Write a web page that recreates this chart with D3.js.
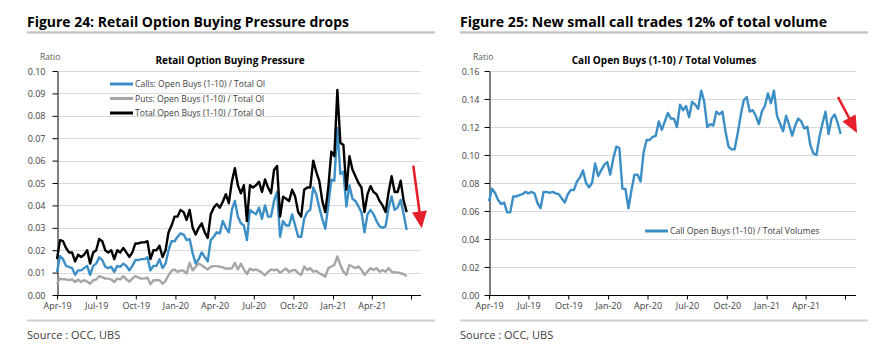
<!DOCTYPE html>
<html>
<head>
<meta charset="utf-8">
<script src="https://cdn.jsdelivr.net/npm/d3@7"></script>
<style>
  body { margin: 0; background: #fff; }
  svg { font-family: "Open Sans", "Noto Sans", sans-serif; }
  .fig-title { font-size: 15px; font-weight: bold; fill: #000; }
  .chart-title { font-size: 10px; font-weight: bold; fill: #000; }
  .axis text { font-size: 9px; fill: #404040; font-family: "Open Sans", sans-serif; }
  .axis line, .axis path { stroke: #000; }
  .legend text { font-size: 8.6px; fill: #404040; }
  .source { font-size: 11px; fill: #404040; }
  .unit { font-size: 8.5px; fill: #595959; }
</style>
</head>
<body>
<svg id="chart" width="879" height="350"></svg>
<script>
// weekly observations, first week of Apr-19 through late Jun-21
const firstWeek = new Date(2019, 3, 1);
const weekCount = 117;
const weeks = d3.range(weekCount).map(i => d3.timeDay.offset(firstWeek, 7 * i));

const quarterTicks = [
  new Date(2019, 3, 1), new Date(2019, 6, 1), new Date(2019, 9, 1), new Date(2020, 0, 1),
  new Date(2020, 3, 1), new Date(2020, 6, 1), new Date(2020, 9, 1), new Date(2021, 0, 1),
  new Date(2021, 3, 1), new Date(2021, 6, 1)
];
const quarterLabels = ["Apr-19", "Jul-19", "Oct-19", "Jan-20", "Apr-20", "Jul-20", "Oct-20", "Jan-21", "Apr-21", ""];

// Figure 24
const callsOI = [
  0.0103, 0.0174, 0.016, 0.013, 0.0125, 0.012, 0.009, 0.011, 0.011, 0.012,
  0.013, 0.009, 0.013, 0.014, 0.0168, 0.0156, 0.0126, 0.012, 0.0126, 0.0103,
  0.013, 0.0126, 0.014, 0.013, 0.011, 0.013, 0.0156, 0.0156, 0.016, 0.016,
  0.0168, 0.011, 0.013, 0.013, 0.016, 0.012, 0.014, 0.020, 0.024, 0.024,
  0.026, 0.0275, 0.027, 0.0245, 0.025, 0.0186, 0.014, 0.016, 0.019, 0.017,
  0.015, 0.0245, 0.026, 0.028, 0.0275, 0.033, 0.030, 0.028, 0.038, 0.042,
  0.035, 0.032, 0.031, 0.0245, 0.038, 0.037, 0.036, 0.039, 0.034, 0.040,
  0.035, 0.035, 0.042, 0.046, 0.026, 0.033, 0.031, 0.031, 0.036,
  0.031, 0.026, 0.026, 0.034, 0.037, 0.038, 0.048, 0.045, 0.039, 0.034,
  0.0296, 0.040, 0.0515, 0.051, 0.0746, 0.054, 0.055, 0.0395, 0.049, 0.043,
  0.042, 0.0395, 0.037, 0.028, 0.036, 0.038, 0.036, 0.033, 0.0306, 0.030,
  0.0306, 0.039, 0.044, 0.038, 0.039, 0.0425, 0.036, 0.029
];
const putsOI = [
  0.005, 0.0073, 0.007, 0.007, 0.0066, 0.007, 0.0058, 0.0069, 0.0058, 0.0066,
  0.006, 0.005, 0.0066, 0.0069, 0.0084, 0.008, 0.0073, 0.0073, 0.0069, 0.0058,
  0.0073, 0.007, 0.0084, 0.007, 0.006, 0.0073, 0.0084, 0.0078, 0.0073, 0.0073,
  0.0078, 0.0048, 0.0066, 0.0066, 0.0066, 0.005, 0.0063, 0.0088, 0.0108, 0.0114,
  0.0103, 0.011, 0.0108, 0.0096, 0.0144, 0.011, 0.0126, 0.014, 0.0133, 0.0123,
  0.0114, 0.0126, 0.0129, 0.0129, 0.0126, 0.0123, 0.0118, 0.0118, 0.0118, 0.0144,
  0.0114, 0.014, 0.0114, 0.0093, 0.0118, 0.011, 0.0114, 0.0108, 0.0099, 0.0088,
  0.0103, 0.0114, 0.011, 0.0114, 0.0099, 0.011, 0.0118, 0.0103, 0.011,
  0.0112, 0.0097, 0.009, 0.0127, 0.0112, 0.012, 0.0104, 0.0108, 0.0097, 0.009,
  0.0082, 0.012, 0.0127, 0.0134, 0.0172, 0.0134, 0.0104, 0.009, 0.0134, 0.0127,
  0.012, 0.0127, 0.0112, 0.009, 0.0104, 0.012, 0.0112, 0.012, 0.0104, 0.0112,
  0.0104, 0.012, 0.0104, 0.0101, 0.0101, 0.0097, 0.0093, 0.0084
];
const totalOI = [
  0.016, 0.0245, 0.024, 0.021, 0.019, 0.019, 0.015, 0.018, 0.017, 0.018,
  0.020, 0.014, 0.019, 0.020, 0.025, 0.024, 0.020, 0.019, 0.020, 0.016,
  0.020, 0.019, 0.021, 0.019, 0.017, 0.019, 0.023, 0.023, 0.0235, 0.0235,
  0.024, 0.016, 0.020, 0.020, 0.022, 0.017, 0.020, 0.028, 0.031, 0.035,
  0.035, 0.038, 0.037, 0.0335, 0.038, 0.030, 0.027, 0.030, 0.032, 0.028,
  0.0255, 0.036, 0.039, 0.0406, 0.039, 0.0416, 0.045, 0.041, 0.0506, 0.0566,
  0.049, 0.0454, 0.049, 0.033, 0.049, 0.048, 0.049, 0.0506, 0.046, 0.0516,
  0.048, 0.0454, 0.0558, 0.0576, 0.035, 0.0439, 0.043, 0.042, 0.047,
  0.044, 0.037, 0.035, 0.047, 0.048, 0.048, 0.060, 0.055, 0.051, 0.042,
  0.037, 0.048, 0.064, 0.062, 0.0915, 0.068, 0.067, 0.047, 0.062, 0.056,
  0.053, 0.050, 0.048, 0.037, 0.045, 0.0486, 0.046, 0.045, 0.042, 0.040,
  0.037, 0.046, 0.053, 0.046, 0.046, 0.051, 0.042, 0.037
];

// Figure 25
const callVolShare = [
  0.067, 0.076, 0.0729, 0.0679, 0.065, 0.066, 0.059, 0.059, 0.0704, 0.0704,
  0.0714, 0.072, 0.0736, 0.0726, 0.0736, 0.0726, 0.0657, 0.062, 0.0736, 0.0736,
  0.073, 0.0736, 0.0726, 0.072, 0.069, 0.066, 0.072, 0.075, 0.075, 0.081,
  0.084, 0.089, 0.080, 0.0769, 0.080, 0.094, 0.085, 0.089,
  0.0929, 0.095, 0.086, 0.0976, 0.106, 0.105, 0.076, 0.0757, 0.062, 0.075,
  0.086, 0.086, 0.081, 0.102, 0.1107, 0.1107, 0.113, 0.1136, 0.124, 0.118,
  0.124, 0.130, 0.126, 0.126, 0.120, 0.136, 0.132, 0.135, 0.127, 0.138,
  0.136, 0.133, 0.146, 0.138, 0.120, 0.122, 0.121, 0.131, 0.129, 0.131,
  0.117, 0.106, 0.104, 0.104, 0.115, 0.128, 0.139, 0.1414, 0.131, 0.132,
  0.128, 0.122, 0.131, 0.135, 0.144, 0.137, 0.146, 0.128, 0.1225, 0.117,
  0.128, 0.1214, 0.1138, 0.121, 0.126, 0.124, 0.119, 0.1202, 0.107, 0.1011,
  0.100, 0.113, 0.1225, 0.131, 0.115, 0.126, 0.129, 0.123, 0.115
];

const BLUE = "#3b8fc6";
const GREY = "#a6a6a6";
const RED = "#e5202a";

const svg = d3.select("#chart");

function drawPanel(p) {
  const g = svg.append("g");

  // heading with grey rule underneath
  g.append("text")
    .attr("class", "fig-title")
    .attr("x", p.left).attr("y", 27)
    .attr("textLength", p.headingWidth).attr("lengthAdjust", "spacingAndGlyphs")
    .text(p.heading);
  g.append("line")
    .attr("x1", p.left).attr("x2", p.right).attr("y1", 32.5).attr("y2", 32.5)
    .attr("stroke", "#c8c8c8").attr("stroke-width", 2.5);

  const x = d3.scaleTime().domain([quarterTicks[0], quarterTicks[9]]).range([p.x0, p.x1]);
  const y = d3.scaleLinear().domain([0, p.yMax]).range([295, 71]);
  const yTicks = d3.range(0, p.yMax + p.yStep / 2, p.yStep);

  // gridlines
  g.append("g").selectAll("line")
    .data(yTicks.slice(1))
    .join("line")
    .attr("x1", p.x0).attr("x2", p.xEnd)
    .attr("y1", d => Math.round(y(d)) + 0.5).attr("y2", d => Math.round(y(d)) + 0.5)
    .attr("stroke", "#d9d9d9");

  const yAxis = g.append("g")
    .attr("class", "axis")
    .attr("transform", `translate(${p.x0 + 0.5},0)`)
    .call(d3.axisLeft(y).tickValues(yTicks).tickFormat(d3.format(".2f")).tickSize(5).tickPadding(p.yPad).tickSizeOuter(0));
  yAxis.selectAll("text").attr("dy", "0.35em");

  const xAxis = g.append("g")
    .attr("class", "axis")
    .attr("transform", "translate(0,295.5)")
    .call(d3.axisBottom(x).tickValues(quarterTicks).tickFormat((d, i) => quarterLabels[i]).tickSize(4).tickPadding(3).tickSizeOuter(0));
  xAxis.select(".domain").remove();
  xAxis.append("line").attr("x1", p.x0).attr("x2", p.xEnd).attr("stroke", "#000");

  g.append("text").attr("class", "unit").attr("x", p.unitX).attr("y", 60).text("Ratio");
  g.append("text").attr("class", "chart-title")
    .attr("x", p.titleX).attr("y", 64).attr("text-anchor", "middle")
    .text(p.title);

  const line = d3.line().x((d, i) => x(weeks[i])).y(d => y(d));
  p.series.forEach(s => {
    g.append("path")
      .datum(s.values)
      .attr("d", line)
      .attr("fill", "none")
      .attr("stroke", s.color)
      .attr("stroke-width", 2.4)
      .attr("stroke-linejoin", "round");
  });

  // legend
  const legend = g.append("g").attr("class", "legend");
  p.legendOrder.forEach((s, i) => {
    const ly = p.legendY + i * 14.5;
    legend.append("line")
      .attr("x1", p.legendX).attr("x2", p.legendX + 23)
      .attr("y1", ly).attr("y2", ly)
      .attr("stroke", s.color).attr("stroke-width", 3);
    legend.append("text")
      .attr("x", p.legendX + 25).attr("y", ly).attr("dy", "0.35em")
      .text(s.name);
  });

  // red arrow
  const [ax1, ay1, ax2, ay2] = p.arrow;
  const len = Math.hypot(ax2 - ax1, ay2 - ay1);
  const ux = (ax2 - ax1) / len, uy = (ay2 - ay1) / len;
  const bx = ax2 - ux * 17, by = ay2 - uy * 17;
  g.append("line")
    .attr("x1", ax1).attr("y1", ay1).attr("x2", bx + ux * 2).attr("y2", by + uy * 2)
    .attr("stroke", RED).attr("stroke-width", 2.6);
  g.append("path")
    .attr("d", `M${ax2},${ay2}L${bx - uy * 7.5},${by + ux * 7.5}L${bx + uy * 7.5},${by - ux * 7.5}Z`)
    .attr("fill", RED);

  g.append("line")
    .attr("x1", p.left).attr("x2", p.right).attr("y1", 320.5).attr("y2", 320.5)
    .attr("stroke", "#d0d0d0").attr("stroke-width", 2);
  g.append("text").attr("class", "source").attr("x", p.left).attr("y", 339).text("Source : OCC, UBS");
}

const calls = { name: "Calls: Open Buys (1-10) / Total OI", values: callsOI, color: BLUE };
const puts = { name: "Puts: Open Buys (1-10) / Total OI", values: putsOI, color: GREY };
const total = { name: "Total Open Buys (1-10) / Total OI", values: totalOI, color: "#000" };
const callVol = { name: "Call Open Buys (1-10) / Total Volumes", values: callVolShare, color: BLUE };

drawPanel({
  heading: "Figure 24: Retail Option Buying Pressure drops", headingWidth: 322,
  title: "Retail Option Buying Pressure", titleX: 230,
  left: 27, right: 435, x0: 57, x1: 411, xEnd: 421, unitX: 40,
  yMax: 0.10, yStep: 0.01, yPad: 7,
  series: [puts, calls, total], legendOrder: [calls, puts, total],
  legendX: 110, legendY: 84,
  arrow: [413.3, 165.7, 421.7, 228.3]
});

drawPanel({
  heading: "Figure 25: New small call trades 12% of total volume", headingWidth: 367,
  title: "Call Open Buys (1-10) / Total Volumes", titleX: 664,
  left: 460, right: 868, x0: 489, x1: 845, xEnd: 856, unitX: 473,
  yMax: 0.16, yStep: 0.02, yPad: 5,
  series: [callVol], legendOrder: [callVol],
  legendX: 645, legendY: 231,
  arrow: [838, 97, 857, 133]
});
</script>
</body>
</html>
